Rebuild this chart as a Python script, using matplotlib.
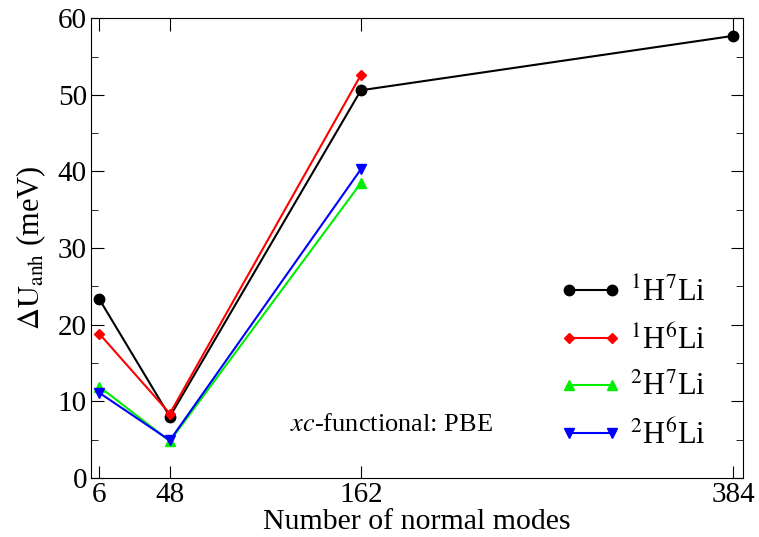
import matplotlib
matplotlib.use("Agg")
import matplotlib.pyplot as plt
from matplotlib.ticker import MultipleLocator

matplotlib.rcParams.update({
    "font.family": "Liberation Serif",
    "mathtext.fontset": "stix",
    "xtick.direction": "in",
    "ytick.direction": "in",
})

# data
modes = [6, 48, 162, 384]
h1_li7 = [23.3, 8.0, 50.6, 57.7]
h1_li6 = [18.8, 8.4, 52.6]
h2_li7 = [11.9, 4.8, 38.5]
h2_li6 = [11.1, 4.9, 40.3]

series = [
    (modes, h1_li7, "black", "o", r"$^{1}$H$^{7}$Li"),
    (modes[:3], h1_li6, "red", "D", r"$^{1}$H$^{6}$Li"),
    (modes[:3], h2_li7, "#00ee00", "^", r"$^{2}$H$^{7}$Li"),
    (modes[:3], h2_li6, "blue", "v", r"$^{2}$H$^{6}$Li"),
]

fig = plt.figure(figsize=(7.59, 5.37), dpi=100)
ax = fig.add_axes([0.12, 0.11, 0.859, 0.856])

for x, y, c, m, lab in series:
    ms = 5.5 if m == "D" else 7.5
    ax.plot(x, y, color=c, marker=m, markersize=ms, linewidth=1.5, label=lab)

ax.set_xlim(1, 390)
ax.set_ylim(0, 60)
ax.set_xticks(modes)
ax.yaxis.set_major_locator(MultipleLocator(10))
ax.yaxis.set_minor_locator(MultipleLocator(5))
ax.tick_params(which="both", top=True, right=True, labelsize=21, pad=3)
ax.tick_params(which="major", length=9)
ax.tick_params(which="minor", length=5)

ax.set_xlabel("Number of normal modes", fontsize=21.5, labelpad=0.5)
ax.set_ylabel(r"$\Delta\mathrm{U}_{\mathrm{anh}}$ (meV)", fontsize=22, labelpad=7)

ax.text(0.46, 0.115, r"$\mathit{xc}$-functional: PBE", transform=ax.transAxes,
        fontsize=19, ha="center", va="center")

ax.legend(loc="lower right", bbox_to_anchor=(0.985, 0.0), frameon=False,
          fontsize=22, numpoints=2, handlelength=2.0, handletextpad=0.3,
          labelspacing=0.56)

fig.savefig("out.png", dpi=100)
